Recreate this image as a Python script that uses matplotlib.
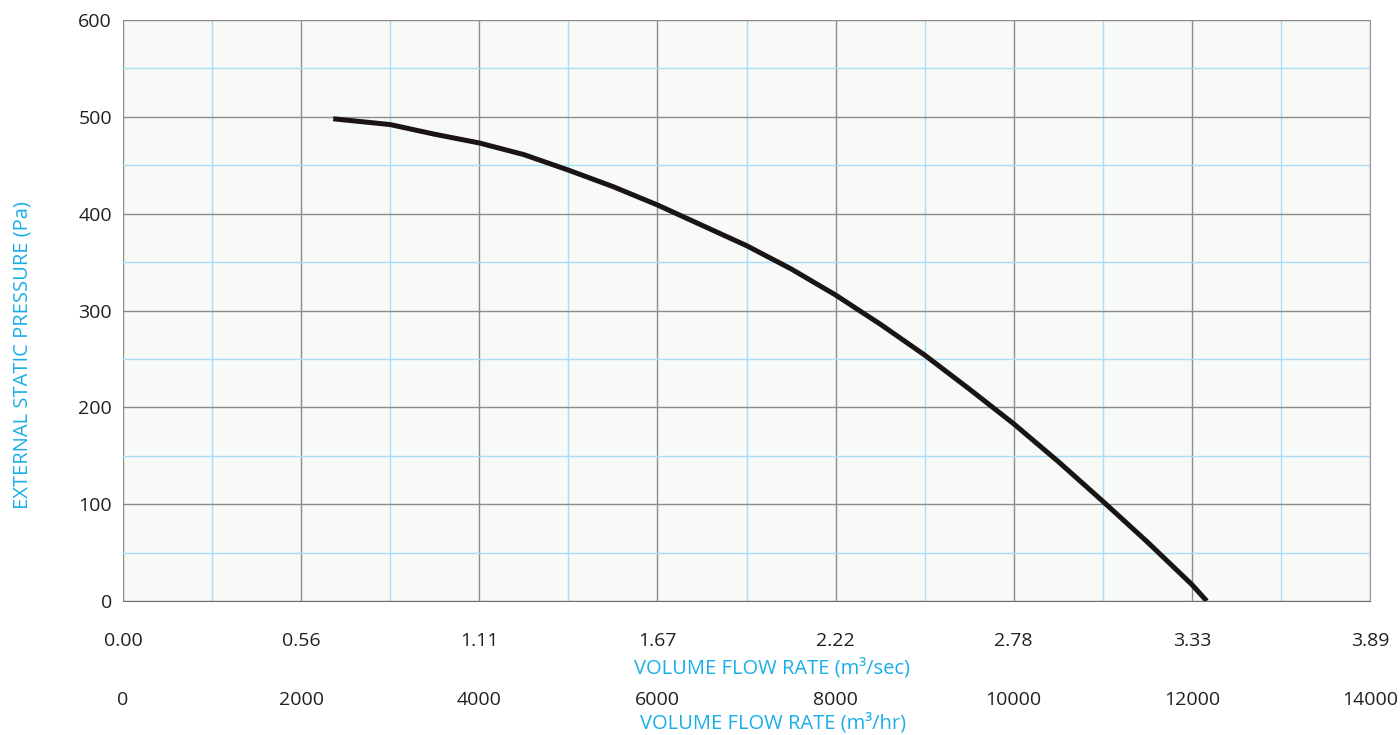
import matplotlib
matplotlib.use("Agg")
import matplotlib.pyplot as plt
from matplotlib.ticker import MultipleLocator

plt.rcParams['font.family'] = ['Open Sans', 'DejaVu Sans']

# courbe du ventilateur
debit = [2360, 3000, 3500, 4000, 4500, 5000, 5500, 6000, 6500, 7000, 7500,
         8000, 8500, 9000, 9500, 10000, 10500, 11000, 11500, 12000, 12167]  # m3/hr
pression = [498, 492, 482, 473, 461, 445, 428, 409, 388, 367, 343,
            316, 286, 254, 219, 183, 144, 103, 61, 17, 0]  # Pa

ticks_hr = [0, 2000, 4000, 6000, 8000, 10000, 12000, 14000]
labels_sec = ["0.00", "0.56", "1.11", "1.67", "2.22", "2.78", "3.33", "3.89"]
labels_hr = ["0", "2000", "4000", "6000", "8000", "10000", "12000", "14000"]
ticks_pa = [0, 100, 200, 300, 400, 500, 600]

bleu = "#1aaee8"
gris = "#8c8c8c"
bleu_clair = "#a9def6"
noir = "#231f20"

fig = plt.figure(figsize=(14, 7.35), dpi=100)
ax = fig.add_axes([123/1400, 1-601/735, (1370-123)/1400, (601-20)/735])
ax.set_facecolor("#f7faf7")

ax.plot(debit, pression, color="#1a1414", lw=3.6, solid_capstyle="butt",
        solid_joinstyle="round", zorder=5)

ax.set_xlim(0, 14000)
ax.set_ylim(0, 600)

# grille : grise tous les 2000 / 100, bleue entre
ax.set_xticks(ticks_hr)
ax.set_xticklabels(labels_sec)
ax.xaxis.set_minor_locator(MultipleLocator(1000))
ax.set_yticks(ticks_pa)
ax.yaxis.set_minor_locator(MultipleLocator(50))
ax.grid(which="major", color=gris, lw=1.0)
ax.grid(which="minor", color=bleu_clair, lw=1.0)
ax.set_axisbelow(True)

ax.tick_params(which="both", length=0)
ax.tick_params(axis="y", labelsize=14, pad=8, labelcolor=noir)
ax.tick_params(axis="x", labelsize=14, pad=22, labelcolor=noir)

for s in ["left", "top"]:
    ax.spines[s].set_visible(False)
ax.spines["right"].set_color("#999999")
ax.spines["bottom"].set_color("#707070")

ax.set_ylabel("EXTERNAL STATIC PRESSURE (Pa)", color=bleu, fontsize=14.5, va="center")
ax.yaxis.set_label_coords((23-123)/1247, (601-355)/581)

ax.set_xlabel("VOLUME FLOW RATE (m³/sec)", color=bleu, fontsize=14.5, va="center")
ax.xaxis.set_label_coords((772-123)/1247, (601-668)/581)

# deuxieme axe en m3/hr
ax2 = ax.secondary_xaxis((601-690)/581)
ax2.set_xticks(ticks_hr)
ax2.set_xticklabels(labels_hr)
ax2.tick_params(length=0, labelsize=14, pad=1, labelcolor=noir)
ax2.spines["bottom"].set_visible(False)
ax.text((773-123)/1247, (601-723)/581, "VOLUME FLOW RATE (m³/hr)", transform=ax.transAxes,
        color=bleu, fontsize=14.5, ha="center", va="center")

fig.savefig("out.png", dpi=100)
